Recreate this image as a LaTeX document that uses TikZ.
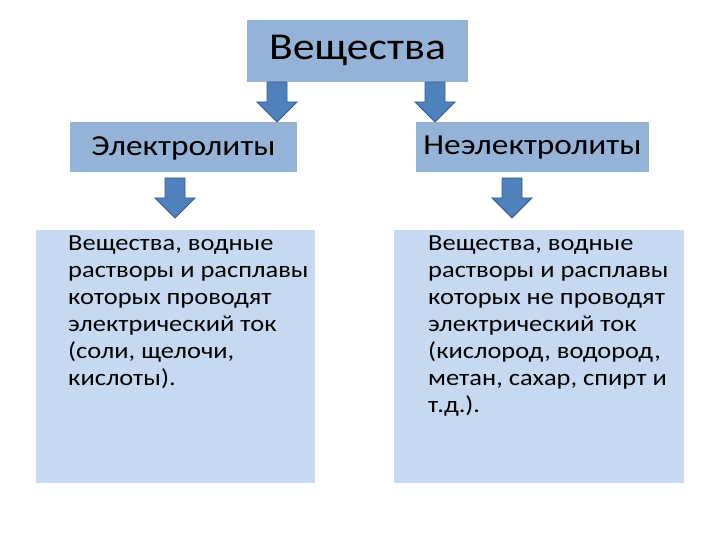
\documentclass[tikz,border=0pt]{standalone}
\usepackage{fontspec}
\setmainfont{Carlito}
\definecolor{topc}{HTML}{95B3D7}
\definecolor{lowc}{HTML}{C6D9F1}
\definecolor{arrc}{HTML}{4F81BD}
\definecolor{arrd}{HTML}{385D8A}
\tikzset{
  wide/.style={xscale=1.15, transform shape},
  body/.style={wide, align=left, anchor=north west, font=\fontsize{23}{27}\selectfont, inner sep=0pt},
  darr/.style={fill=arrc, draw=arrd, line width=0.8pt}
}
\newcommand{\downarrowshape}[3]{% x, ytop, ybottom
  \draw[darr] (#1-10,#2) -- (#1+10,#2) -- (#1+10,#2+20) -- (#1+20,#2+20) -- (#1,#3) -- (#1-20,#2+20) -- (#1-10,#2+20) -- cycle;}
\begin{document}
\begin{tikzpicture}[x=1pt,y=-1pt]
\useasboundingbox (0,0) rectangle (720,540);
\fill[topc] (247,20) rectangle (468,82);
\node[wide] (top) at (357.5,50) {\fontsize{38}{40}\selectfont Вещества};
\fill[topc] (70,122) rectangle (297,172);
\node[wide] (el) at (183.5,148) {\fontsize{29}{30}\selectfont Электролиты};
\fill[topc] (416,122) rectangle (649,172);
\node[wide] (nel) at (532.5,148) {\fontsize{29}{30}\selectfont Неэлектролиты};
\fill[lowc] (36,230) rectangle (315,483);
\node[body] (lt) at (68,236) {Вещества, водные\\растворы и расплавы\\которых проводят\\электрический ток\\(соли, щелочи,\\кислоты).};
\fill[lowc] (394,230) rectangle (684,483);
\node[body] (rt) at (428,236) {Вещества, водные\\растворы и расплавы\\которых не проводят\\электрический ток\\(кислород, водород,\\метан, сахар, спирт и\\т.д.).};
\downarrowshape{277}{82}{122}
\downarrowshape{435}{82}{122}
\downarrowshape{175}{178}{218}
\downarrowshape{512}{178}{218}
\end{tikzpicture}
\end{document}
